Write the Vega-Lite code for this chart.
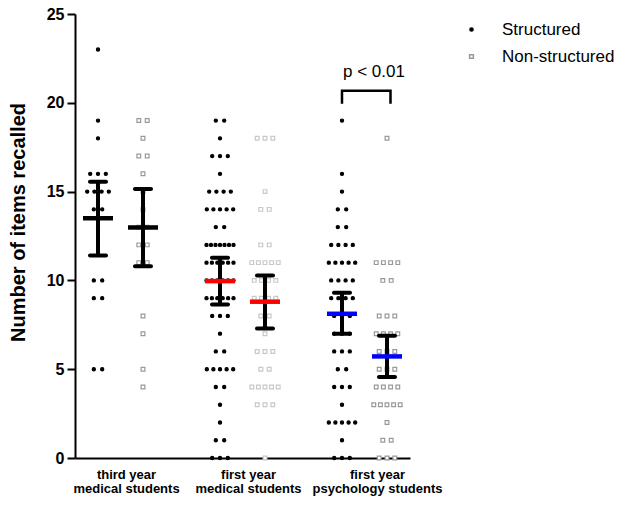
{
  "$schema": "https://vega.github.io/schema/vega-lite/v6.json",
  "autosize": "none",
  "width": 335,
  "height": 444,
  "padding": {"left": 75, "top": 14, "right": 211, "bottom": 47},
  "background": "white",
  "config": {
    "view": {"stroke": null},
    "font": "Liberation Sans",
    "axis": {"grid": false, "domainColor": "black", "domainWidth": 2, "tickColor": "black", "labelColor": "black", "titleColor": "black", "labelFont": "Liberation Sans", "titleFont": "Liberation Sans"},
    "legend": {"orient": "none", "legendX": 388, "legendY": 7, "labelFontSize": 17, "labelFont": "Liberation Sans", "labelColor": "black", "labelOffset": 22, "rowPadding": 9, "padding": 0, "title": null}
  },
  "datasets": {
    "points": [
      {"g":"G1","t":"S","v":23},{"g":"G1","t":"S","v":19},{"g":"G1","t":"S","v":18},{"g":"G1","t":"S","v":16},{"g":"G1","t":"S","v":16},{"g":"G1","t":"S","v":16},{"g":"G1","t":"S","v":15},{"g":"G1","t":"S","v":15},{"g":"G1","t":"S","v":15},{"g":"G1","t":"S","v":15},{"g":"G1","t":"S","v":14},{"g":"G1","t":"S","v":14},{"g":"G1","t":"S","v":13},{"g":"G1","t":"S","v":10},{"g":"G1","t":"S","v":10},{"g":"G1","t":"S","v":9},{"g":"G1","t":"S","v":9},{"g":"G1","t":"S","v":5},{"g":"G1","t":"S","v":5},
      {"g":"G1","t":"N","v":19},{"g":"G1","t":"N","v":19},{"g":"G1","t":"N","v":18},{"g":"G1","t":"N","v":17},{"g":"G1","t":"N","v":17},{"g":"G1","t":"N","v":16},{"g":"G1","t":"N","v":15},{"g":"G1","t":"N","v":14},{"g":"G1","t":"N","v":13},{"g":"G1","t":"N","v":13},{"g":"G1","t":"N","v":12},{"g":"G1","t":"N","v":12},{"g":"G1","t":"N","v":11},{"g":"G1","t":"N","v":11},{"g":"G1","t":"N","v":8},{"g":"G1","t":"N","v":7},{"g":"G1","t":"N","v":5},{"g":"G1","t":"N","v":4},
      {"g":"G2","t":"S","v":19},{"g":"G2","t":"S","v":19},{"g":"G2","t":"S","v":18},{"g":"G2","t":"S","v":17},{"g":"G2","t":"S","v":17},{"g":"G2","t":"S","v":17},{"g":"G2","t":"S","v":16},{"g":"G2","t":"S","v":15},{"g":"G2","t":"S","v":15},{"g":"G2","t":"S","v":15},{"g":"G2","t":"S","v":15},{"g":"G2","t":"S","v":14},{"g":"G2","t":"S","v":14},{"g":"G2","t":"S","v":14},{"g":"G2","t":"S","v":14},{"g":"G2","t":"S","v":14},{"g":"G2","t":"S","v":13},{"g":"G2","t":"S","v":13},
      {"g":"G2","t":"S","v":12},{"g":"G2","t":"S","v":12},{"g":"G2","t":"S","v":12},{"g":"G2","t":"S","v":12},{"g":"G2","t":"S","v":12},{"g":"G2","t":"S","v":12},{"g":"G2","t":"S","v":12},
      {"g":"G2","t":"S","v":11},{"g":"G2","t":"S","v":11},{"g":"G2","t":"S","v":11},{"g":"G2","t":"S","v":11},{"g":"G2","t":"S","v":11},{"g":"G2","t":"S","v":11},
      {"g":"G2","t":"S","v":10},{"g":"G2","t":"S","v":10},{"g":"G2","t":"S","v":10},{"g":"G2","t":"S","v":10},{"g":"G2","t":"S","v":10},{"g":"G2","t":"S","v":10},
      {"g":"G2","t":"S","v":9},{"g":"G2","t":"S","v":9},{"g":"G2","t":"S","v":9},{"g":"G2","t":"S","v":9},{"g":"G2","t":"S","v":9},{"g":"G2","t":"S","v":9},
      {"g":"G2","t":"S","v":8},{"g":"G2","t":"S","v":8},{"g":"G2","t":"S","v":8},{"g":"G2","t":"S","v":7},{"g":"G2","t":"S","v":6},{"g":"G2","t":"S","v":6},
      {"g":"G2","t":"S","v":5},{"g":"G2","t":"S","v":5},{"g":"G2","t":"S","v":5},{"g":"G2","t":"S","v":5},{"g":"G2","t":"S","v":5},
      {"g":"G2","t":"S","v":4},{"g":"G2","t":"S","v":4},{"g":"G2","t":"S","v":3},{"g":"G2","t":"S","v":2},{"g":"G2","t":"S","v":1},{"g":"G2","t":"S","v":1},{"g":"G2","t":"S","v":0},{"g":"G2","t":"S","v":0},{"g":"G2","t":"S","v":0},
      {"g":"G2","t":"N","v":18},{"g":"G2","t":"N","v":18},{"g":"G2","t":"N","v":18},{"g":"G2","t":"N","v":15},{"g":"G2","t":"N","v":14},{"g":"G2","t":"N","v":14},{"g":"G2","t":"N","v":12},{"g":"G2","t":"N","v":12},
      {"g":"G2","t":"N","v":11},{"g":"G2","t":"N","v":11},{"g":"G2","t":"N","v":11},{"g":"G2","t":"N","v":11},{"g":"G2","t":"N","v":11},
      {"g":"G2","t":"N","v":10},{"g":"G2","t":"N","v":10},{"g":"G2","t":"N","v":10},{"g":"G2","t":"N","v":10},
      {"g":"G2","t":"N","v":9},{"g":"G2","t":"N","v":9},{"g":"G2","t":"N","v":9},{"g":"G2","t":"N","v":9},
      {"g":"G2","t":"N","v":8},{"g":"G2","t":"N","v":8},{"g":"G2","t":"N","v":7},{"g":"G2","t":"N","v":6},{"g":"G2","t":"N","v":6},{"g":"G2","t":"N","v":6},{"g":"G2","t":"N","v":5},{"g":"G2","t":"N","v":5},
      {"g":"G2","t":"N","v":4},{"g":"G2","t":"N","v":4},{"g":"G2","t":"N","v":4},{"g":"G2","t":"N","v":4},{"g":"G2","t":"N","v":4},
      {"g":"G2","t":"N","v":3},{"g":"G2","t":"N","v":3},{"g":"G2","t":"N","v":3},{"g":"G2","t":"N","v":0},
      {"g":"G3","t":"S","v":19},{"g":"G3","t":"S","v":16},{"g":"G3","t":"S","v":15},{"g":"G3","t":"S","v":14},{"g":"G3","t":"S","v":14},{"g":"G3","t":"S","v":13},{"g":"G3","t":"S","v":13},
      {"g":"G3","t":"S","v":12},{"g":"G3","t":"S","v":12},{"g":"G3","t":"S","v":12},{"g":"G3","t":"S","v":12},
      {"g":"G3","t":"S","v":11},{"g":"G3","t":"S","v":11},{"g":"G3","t":"S","v":11},{"g":"G3","t":"S","v":11},{"g":"G3","t":"S","v":11},
      {"g":"G3","t":"S","v":10},{"g":"G3","t":"S","v":10},{"g":"G3","t":"S","v":10},{"g":"G3","t":"S","v":10},
      {"g":"G3","t":"S","v":9},{"g":"G3","t":"S","v":9},{"g":"G3","t":"S","v":9},{"g":"G3","t":"S","v":9},
      {"g":"G3","t":"S","v":8},{"g":"G3","t":"S","v":8},{"g":"G3","t":"S","v":8},{"g":"G3","t":"S","v":7},{"g":"G3","t":"S","v":7},{"g":"G3","t":"S","v":7},
      {"g":"G3","t":"S","v":6},{"g":"G3","t":"S","v":6},{"g":"G3","t":"S","v":6},{"g":"G3","t":"S","v":5},{"g":"G3","t":"S","v":5},
      {"g":"G3","t":"S","v":4},{"g":"G3","t":"S","v":4},{"g":"G3","t":"S","v":4},{"g":"G3","t":"S","v":3},
      {"g":"G3","t":"S","v":2},{"g":"G3","t":"S","v":2},{"g":"G3","t":"S","v":2},{"g":"G3","t":"S","v":2},{"g":"G3","t":"S","v":2},
      {"g":"G3","t":"S","v":1},{"g":"G3","t":"S","v":0},{"g":"G3","t":"S","v":0},{"g":"G3","t":"S","v":0},
      {"g":"G3","t":"N","v":18},{"g":"G3","t":"N","v":11},{"g":"G3","t":"N","v":11},{"g":"G3","t":"N","v":11},{"g":"G3","t":"N","v":11},{"g":"G3","t":"N","v":10},{"g":"G3","t":"N","v":10},
      {"g":"G3","t":"N","v":8},{"g":"G3","t":"N","v":8},{"g":"G3","t":"N","v":8},{"g":"G3","t":"N","v":7},{"g":"G3","t":"N","v":7},{"g":"G3","t":"N","v":7},{"g":"G3","t":"N","v":7},
      {"g":"G3","t":"N","v":6},{"g":"G3","t":"N","v":6},{"g":"G3","t":"N","v":6},{"g":"G3","t":"N","v":5},{"g":"G3","t":"N","v":5},{"g":"G3","t":"N","v":5},
      {"g":"G3","t":"N","v":4},{"g":"G3","t":"N","v":4},{"g":"G3","t":"N","v":4},{"g":"G3","t":"N","v":4},
      {"g":"G3","t":"N","v":3},{"g":"G3","t":"N","v":3},{"g":"G3","t":"N","v":3},{"g":"G3","t":"N","v":3},{"g":"G3","t":"N","v":3},
      {"g":"G3","t":"N","v":2},{"g":"G3","t":"N","v":1},{"g":"G3","t":"N","v":1},{"g":"G3","t":"N","v":0},{"g":"G3","t":"N","v":0},{"g":"G3","t":"N","v":0}
    ],
    "summary": [
      {"g":"G1","t":"S","mean":13.5,"lo":11.4,"hi":15.55},
      {"g":"G1","t":"N","mean":12.98,"lo":10.8,"hi":15.14},
      {"g":"G2","t":"S","mean":9.96,"lo":8.64,"hi":11.28},
      {"g":"G2","t":"N","mean":8.8,"lo":7.29,"hi":10.28},
      {"g":"G3","t":"S","mean":8.12,"lo":7.0,"hi":9.3},
      {"g":"G3","t":"N","mean":5.72,"lo":4.56,"hi":6.89}
    ],
    "bracket": [
      {"g":"G3","t":"S","y":19.95,"o":1},
      {"g":"G3","t":"S","y":20.68,"o":2},
      {"g":"G3","t":"N","y":20.68,"o":3},
      {"g":"G3","t":"N","y":19.95,"o":4}
    ],
    "note": [{"g":"G3","label":"p < 0.01","y":21.75}]
  },
  "layer": [
    {
      "data": {"name": "points"},
      "transform": [
        {"window": [{"op": "row_number", "as": "rk"}, {"op": "count", "as": "n"}], "groupby": ["g", "t", "v"], "frame": [null, null]},
        {"calculate": "(datum.t === 'S' ? -22.5 : 22.5) + (datum.n > 1 ? (datum.rk - (datum.n + 1) / 2) * min(27 / (datum.n - 1), 9.6 - 0.6 * datum.n) : 0)", "as": "off"}
      ],
      "mark": {"type": "point", "strokeWidth": 1.2, "opacity": 1},
      "encoding": {
        "x": {"field": "g", "type": "nominal", "sort": ["G1", "G2", "G3"], "scale": {"paddingInner": 0.5, "paddingOuter": 0.123},
              "axis": {"title": null, "ticks": false, "labelAngle": 0, "labelFontWeight": "bold", "labelFontSize": 13, "labelPadding": 10, "labelLineHeight": 14, "labelBaseline": "top",
                       "labelOffset": {"condition": {"test": "datum.value == 'G3'", "value": 13}, "value": 6},
                       "labelExpr": "datum.value == 'G1' ? ['third year', 'medical students'] : datum.value == 'G2' ? ['first year', 'medical students'] : ['first year', 'psychology students']"}},
        "xOffset": {"field": "off", "type": "quantitative", "scale": {"domain": [-30.5, 30.5]}},
        "y": {"field": "v", "type": "quantitative", "scale": {"domain": [0, 25], "nice": false},
              "axis": {"title": "Number of items recalled", "titleFontSize": 20, "titleFontWeight": "bold", "titlePadding": 18, "titleY": 208, "values": [0, 5, 10, 15, 20, 25], "labelFontSize": 16, "labelFontWeight": "bold", "labelPadding": 3, "tickSize": 8, "tickWidth": 2}},
        "shape": {"field": "t", "type": "nominal", "scale": {"domain": ["S", "N"], "range": ["circle", "square"]},
                  "legend": {"labelExpr": "datum.value == 'S' ? 'Structured' : 'Non-structured'"}},
        "fill": {"field": "t", "type": "nominal", "scale": {"domain": ["S", "N"], "range": ["#000000", "#ffffff"]}, "legend": {"labelExpr": "datum.value == 'S' ? 'Structured' : 'Non-structured'"}},
        "stroke": {"field": "t", "type": "nominal", "scale": {"domain": ["S", "N"], "range": ["#000000", "#999999"]},
                   "condition": {"test": "datum.g === 'G2' && datum.t === 'N'", "value": "#c8c8c8"},
                   "legend": {"labelExpr": "datum.value == 'S' ? 'Structured' : 'Non-structured'"}},
        "size": {"field": "t", "type": "nominal", "scale": {"domain": ["S", "N"], "range": [10, 14]}, "legend": {"labelExpr": "datum.value == 'S' ? 'Structured' : 'Non-structured'"}}
      }
    },
    {
      "data": {"name": "summary"},
      "transform": [{"calculate": "datum.t === 'S' ? -22.5 : 22.5", "as": "off"}],
      "mark": {"type": "rule", "color": "black", "strokeWidth": 4},
      "encoding": {
        "x": {"field": "g", "type": "nominal"},
        "xOffset": {"field": "off", "type": "quantitative"},
        "y": {"field": "lo", "type": "quantitative"},
        "y2": {"field": "hi"}
      }
    },
    {
      "data": {"name": "summary"},
      "transform": [{"calculate": "datum.t === 'S' ? -22.5 : 22.5", "as": "off"}, {"fold": ["lo", "hi"], "as": ["k", "cap"]}],
      "mark": {"type": "tick", "color": "black", "size": 20, "thickness": 4, "cornerRadius": 2, "opacity": 1},
      "encoding": {
        "x": {"field": "g", "type": "nominal"},
        "xOffset": {"field": "off", "type": "quantitative"},
        "y": {"field": "cap", "type": "quantitative"}
      }
    },
    {
      "data": {"name": "summary"},
      "transform": [{"calculate": "datum.t === 'S' ? -22.5 : 22.5", "as": "off"}],
      "mark": {"type": "tick", "size": 30, "thickness": 4.5, "opacity": 1},
      "encoding": {
        "x": {"field": "g", "type": "nominal"},
        "xOffset": {"field": "off", "type": "quantitative"},
        "y": {"field": "mean", "type": "quantitative"},
        "color": {"field": "g", "type": "nominal", "scale": {"domain": ["G1", "G2", "G3"], "range": ["#000000", "#ff0000", "#0000ff"]}, "legend": null}
      }
    },
    {
      "data": {"name": "bracket"},
      "transform": [{"calculate": "datum.t === 'S' ? -22.5 : 26", "as": "off"}],
      "mark": {"type": "line", "color": "black", "strokeWidth": 2.5, "strokeJoin": "miter", "strokeCap": "butt"},
      "encoding": {
        "x": {"field": "g", "type": "nominal"},
        "xOffset": {"field": "off", "type": "quantitative"},
        "y": {"field": "y", "type": "quantitative"},
        "order": {"field": "o", "type": "quantitative"}
      }
    },
    {
      "data": {"name": "note"},
      "mark": {"type": "text", "fontSize": 17, "font": "Liberation Sans", "color": "black", "dx": 9.5},
      "encoding": {
        "x": {"field": "g", "type": "nominal"},
        "y": {"field": "y", "type": "quantitative"},
        "text": {"field": "label"}
      }
    }
  ]
}
